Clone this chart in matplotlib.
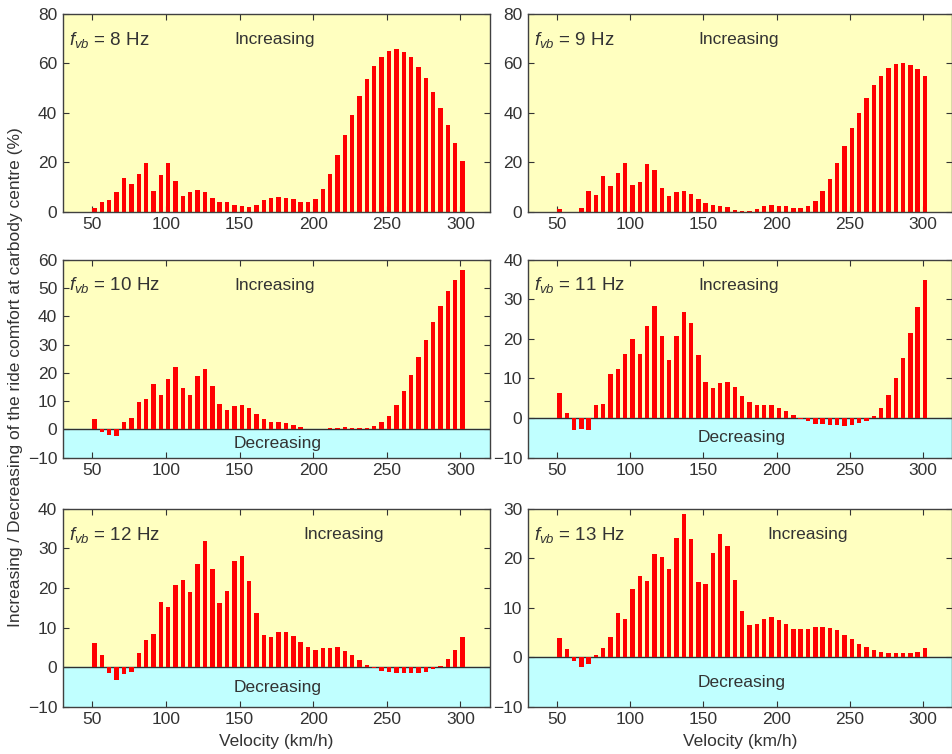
from matplotlib import pyplot as plt
import numpy as np

# velocity steps (km/h)
velocity = np.arange(50, 305, 5)

# change of ride comfort at carbody centre (%) for each vertical bending frequency
comfort_8hz = [1.4, 3.9, 4.8, 8.1, 13.8, 11.3, 15.2, 19.6, 8.6, 14.8,
               19.6, 12.4, 6.5, 7.9, 9.0, 7.9, 5.5, 4.1, 3.9, 2.9,
               2.5, 2.1, 2.9, 4.7, 5.8, 6.0, 5.8, 5.0, 3.8, 3.8,
               5.0, 9.1, 15.3, 22.8, 31.0, 39.2, 46.8, 53.6, 58.8, 62.4,
               65.1, 65.8, 64.7, 62.4, 58.7, 54.0, 48.6, 42.0, 35.2, 27.9,
               20.7]
comfort_9hz = [1.0, 0.0, 0.0, 1.7, 8.3, 7.0, 14.5, 10.5, 15.9, 19.7,
               11.0, 12.0, 19.4, 17.1, 9.7, 6.3, 7.9, 8.6, 7.4, 5.4,
               3.6, 2.8, 2.3, 1.8, 0.8, 0.5, 0.5, 1.3, 2.4, 2.7,
               2.4, 2.3, 1.5, 1.5, 2.3, 4.4, 8.4, 13.3, 19.9, 26.8,
               33.7, 40.0, 46.1, 51.2, 55.0, 58.1, 59.8, 60.2, 59.4, 57.7,
               55.0]
comfort_10hz = [3.8, -0.8, -2.0, -2.4, 2.6, 4.2, 9.8, 10.7, 16.0, 12.1,
                17.9, 22.0, 14.6, 12.1, 18.9, 21.2, 15.5, 9.0, 6.9, 8.2,
                8.7, 7.4, 5.4, 3.5, 2.7, 2.7, 2.4, 1.5, 0.8, 0.0,
                0.0, 0.0, 0.4, 0.4, 0.8, 0.4, 0.4, 0.4, 1.2, 2.6,
                4.9, 8.7, 13.5, 19.2, 25.5, 31.5, 37.9, 43.5, 48.8, 52.9,
                56.2]
comfort_11hz = [6.4, 1.4, -3.0, -2.7, -3.1, 3.2, 3.5, 11.1, 12.4, 16.2,
                19.9, 16.2, 23.2, 28.3, 20.8, 14.6, 20.8, 26.7, 24.0, 15.9,
                9.2, 7.5, 8.9, 9.2, 7.9, 5.6, 4.1, 3.2, 3.2, 3.2,
                2.6, 1.7, 0.7, -0.3, -0.8, -1.4, -1.4, -1.7, -1.7, -1.9,
                -1.7, -1.3, -0.8, 0.5, 2.6, 5.9, 10.0, 15.1, 21.4, 28.0,
                34.8]
comfort_12hz = [6.1, 3.0, -1.5, -3.1, -1.8, -1.3, 3.6, 6.9, 8.4, 16.6,
                15.1, 20.8, 22.1, 19.1, 26.2, 31.8, 24.7, 16.2, 19.2, 26.9,
                28.2, 21.8, 13.6, 8.2, 7.7, 8.8, 9.0, 7.9, 6.3, 5.0,
                4.4, 4.8, 4.8, 5.0, 4.2, 3.1, 1.9, 0.7, -0.3, -1.0,
                -1.3, -1.5, -1.5, -1.5, -1.5, -1.3, -0.4, 0.4, 2.1, 4.4,
                7.7]
comfort_13hz = [3.9, 1.7, -0.7, -2.0, -1.4, 0.4, 1.8, 4.1, 8.9, 7.8,
                13.8, 16.4, 15.5, 20.9, 20.3, 17.9, 24.1, 28.9, 23.9, 15.2,
                14.9, 21.1, 24.9, 22.4, 15.7, 9.4, 6.5, 6.7, 7.7, 8.2,
                7.5, 6.8, 5.8, 5.7, 5.8, 6.2, 6.2, 6.0, 5.5, 4.6,
                3.8, 2.8, 2.1, 1.5, 1.1, 0.9, 0.9, 0.9, 0.9, 1.1,
                1.8]

freqs = [8, 9, 10, 11, 12, 13]
series = [comfort_8hz, comfort_9hz, comfort_10hz, comfort_11hz, comfort_12hz, comfort_13hz]
ylims = [(0, 80), (0, 80), (-10, 60), (-10, 40), (-10, 40), (-10, 30)]
ysteps = [20, 20, 10, 10, 10, 10]

plt.rcParams['font.family'] = ['Liberation Sans', 'DejaVu Sans']
plt.rcParams['mathtext.fontset'] = 'custom'
plt.rcParams['mathtext.it'] = 'Liberation Sans:italic'
plt.rcParams['mathtext.rm'] = 'Liberation Sans'

YELLOW = '#FFFFC0'
CYAN = '#C0FFFF'
TXT = '#333333'
FS = 12.5

fig = plt.figure(figsize=(9.53, 7.54), dpi=100)

lefts = [0.066, 0.554]
bottoms = [0.719, 0.393, 0.0625]
w_left, w_right, h = 0.448, 0.445, 0.2626

for i, (f, vals, yl, ys) in enumerate(zip(freqs, series, ylims, ysteps)):
    row, col = i // 2, i % 2
    ax = fig.add_axes([lefts[col], bottoms[row], w_left if col == 0 else w_right, h])
    ax.set_facecolor(YELLOW)
    if yl[0] < 0:
        ax.axhspan(yl[0], 0, color=CYAN, zorder=0)
        ax.axhline(0, color='#303030', lw=1.0, zorder=1)
    ax.bar(velocity + 1.5, vals, width=3.0, color='#FF0000', zorder=2)
    ax.set_xlim(30, 320)
    ax.set_ylim(*yl)
    ax.set_xticks([50, 100, 150, 200, 250, 300])
    ax.set_yticks(np.arange(yl[0], yl[1] + 1, ys))
    ax.tick_params(direction='in', length=4, top=True, right=True,
                   labelsize=FS, colors=TXT, pad=4)
    for sp in ax.spines.values():
        sp.set_color('#404040')
        sp.set_linewidth(1.0)

    ax.text(0.015, 0.87, r'$f_{vb}$ = %d Hz' % f, transform=ax.transAxes,
            fontsize=13.5, color=TXT, va='center', ha='left')
    inc_x = 174 if row < 2 else 221
    ax.text(inc_x, yl[1] - (yl[1] - yl[0]) * 0.13, 'Increasing',
            fontsize=FS, color=TXT, ha='center', va='center')
    if yl[0] < 0:
        ax.text(176, yl[0] / 2, 'Decreasing', fontsize=FS, color=TXT,
                ha='center', va='center')
    if row == 2:
        ax.set_xlabel('Velocity (km/h)', fontsize=FS, color=TXT, labelpad=5)

fig.text(0.016, 0.5, 'Increasing / Decreasing of the ride comfort at carbody centre (%)',
         rotation=90, ha='center', va='center', fontsize=FS, color=TXT)

fig.savefig('out.png', dpi=100, facecolor='white')
